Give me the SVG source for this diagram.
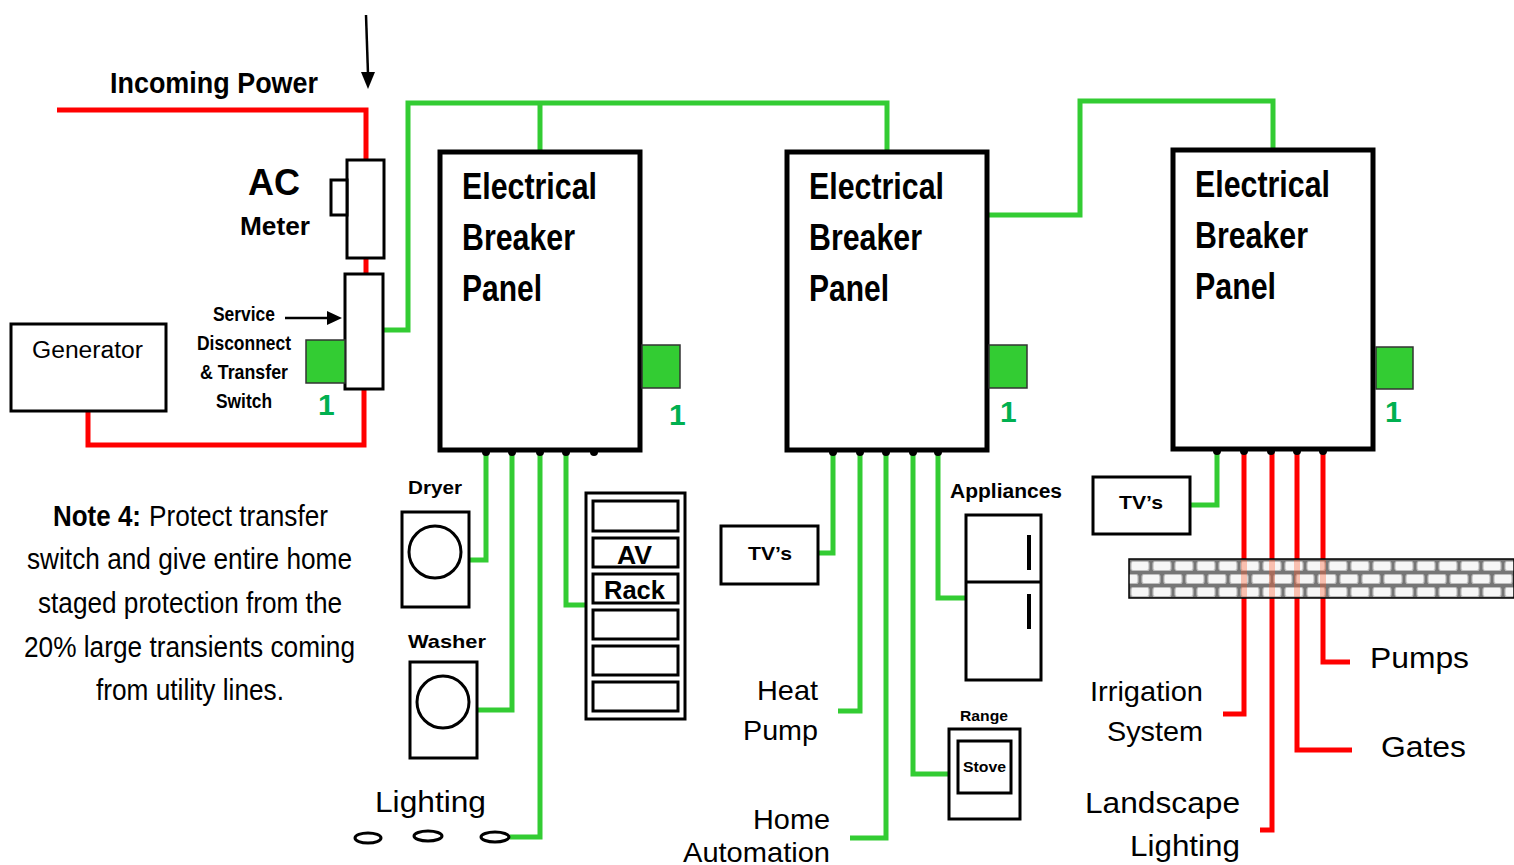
<svg xmlns="http://www.w3.org/2000/svg" width="1514" height="865" viewBox="0 0 1514 865">
<style>
.box{fill:#fff;stroke:#000;stroke-width:3}
.panel{fill:#fff;stroke:#000;stroke-width:5}
.g{fill:none;stroke:#33cc33;stroke-width:5}
.r{fill:none;stroke:#ff0000;stroke-width:5}
.sq{fill:#33cc33;stroke:#333;stroke-width:1.5}
.one{font-family:"Liberation Sans",Arial,sans-serif;font-weight:bold;font-size:30px;fill:#00b050}
.bn{font-family:"Liberation Sans",Arial,sans-serif;font-weight:bold;fill:#000}
.n{font-family:"Liberation Sans",Arial,sans-serif;fill:#000}
.pt{font-family:"Liberation Sans",Arial,sans-serif;font-weight:bold;font-size:36px;fill:#000}
.dot{fill:#000}
</style>
<defs>
<pattern id="brick" patternUnits="userSpaceOnUse" x="1129" y="559" width="44" height="26">
<rect width="44" height="26" fill="#767676"/>
<rect x="2" y="2.5" width="18" height="9" rx="2" fill="#f6f6f6" stroke="#bdbdbd" stroke-width="1.2"/>
<rect x="24" y="2.5" width="18" height="9" rx="2" fill="#f6f6f6" stroke="#bdbdbd" stroke-width="1.2"/>
<rect x="-9" y="15.5" width="18" height="9" rx="2" fill="#f6f6f6" stroke="#bdbdbd" stroke-width="1.2"/>
<rect x="13" y="15.5" width="18" height="9" rx="2" fill="#f6f6f6" stroke="#bdbdbd" stroke-width="1.2"/>
<rect x="35" y="15.5" width="18" height="9" rx="2" fill="#f6f6f6" stroke="#bdbdbd" stroke-width="1.2"/>
</pattern>
</defs>
<rect width="1514" height="865" fill="#fff"/>

<g id="connectors">
<polyline class="r" points="57,110 366,110 366,160"/>
<line class="r" x1="366" y1="258" x2="366" y2="274"/>
<polyline class="r" points="364,389 364,445 88,445 88,411"/>
<polyline class="g" points="383,330 408,330 408,103 887,103 887,152"/>
<line class="g" x1="540" y1="103" x2="540" y2="152"/>
<polyline class="g" points="987,215 1080,215 1080,101 1273,101 1273,150"/>
<polyline class="g" points="486,450 486,560 469,560"/>
<polyline class="g" points="512,450 512,710 477,710"/>
<polyline class="g" points="540,450 540,837 510,837"/>
<polyline class="g" points="566,450 566,605 586,605"/>
<polyline class="g" points="833,450 833,553 818,553"/>
<polyline class="g" points="860,450 860,711 838,711"/>
<polyline class="g" points="886,450 886,838 850,838"/>
<polyline class="g" points="913,450 913,774 949,774"/>
<polyline class="g" points="938,450 938,598 966,598"/>
<polyline class="g" points="1217,449 1217,505 1190,505"/>
<polyline class="r" points="1244,449 1244,714 1223,714"/>
<polyline class="r" points="1272,449 1272,830 1260,830"/>
<polyline class="r" points="1297,449 1297,750 1352,750"/>
<polyline class="r" points="1323,449 1323,662 1350,662"/>
<line x1="366" y1="15" x2="368" y2="74" stroke="#000" stroke-width="2.5"/>
<polygon points="361,72 375,72 368,89" fill="#000"/>
<line x1="285" y1="318" x2="328" y2="318" stroke="#000" stroke-width="2.5"/>
<polygon points="327,311 327,325 342,318" fill="#000"/>
</g>

<g id="incoming-label">
<text class="bn" x="110" y="93" font-size="30" textLength="208" lengthAdjust="spacingAndGlyphs">Incoming  Power</text>
</g>

<g id="meter">
<rect class="box" x="347" y="160" width="37" height="98" stroke-width="2.5"/>
<rect class="box" x="331" y="180" width="16" height="35" stroke-width="2.5"/>
<text class="bn" x="248" y="195" font-size="36" textLength="52" lengthAdjust="spacingAndGlyphs">AC</text>
<text class="bn" x="240" y="235" font-size="25" textLength="70" lengthAdjust="spacingAndGlyphs">Meter</text>
</g>

<g id="switch">
<rect class="box" x="345" y="274" width="38" height="115" stroke-width="2.5"/>
<rect class="sq" x="306" y="340" width="39" height="43"/>
<text class="one" x="318" y="415">1</text>
<text class="bn" x="213" y="321" font-size="20" textLength="62" lengthAdjust="spacingAndGlyphs">Service</text>
<text class="bn" x="197" y="350" font-size="20" textLength="94" lengthAdjust="spacingAndGlyphs">Disconnect</text>
<text class="bn" x="200" y="379" font-size="20" textLength="88" lengthAdjust="spacingAndGlyphs">&amp; Transfer</text>
<text class="bn" x="216" y="408" font-size="20" textLength="56" lengthAdjust="spacingAndGlyphs">Switch</text>
</g>

<g id="generator">
<rect class="box" x="11" y="324" width="155" height="87"/>
<text class="n" x="32" y="358" font-size="23" textLength="111" lengthAdjust="spacingAndGlyphs">Generator</text>
</g>

<g id="panel1">
<rect class="panel" x="440" y="152" width="200" height="298"/>
<text class="pt" x="462" y="199" textLength="135" lengthAdjust="spacingAndGlyphs">Electrical</text>
<text class="pt" x="462" y="250" textLength="113" lengthAdjust="spacingAndGlyphs">Breaker</text>
<text class="pt" x="462" y="301" textLength="80" lengthAdjust="spacingAndGlyphs">Panel</text>
<rect class="sq" x="642" y="345" width="38" height="43"/>
<text class="one" x="669" y="425">1</text>
<circle class="dot" cx="486" cy="452" r="4"/><circle class="dot" cx="512" cy="452" r="4"/><circle class="dot" cx="540" cy="452" r="4"/><circle class="dot" cx="566" cy="452" r="4"/><circle class="dot" cx="594" cy="452" r="4"/>
</g>

<g id="panel2">
<rect class="panel" x="787" y="152" width="200" height="298"/>
<text class="pt" x="809" y="199" textLength="135" lengthAdjust="spacingAndGlyphs">Electrical</text>
<text class="pt" x="809" y="250" textLength="113" lengthAdjust="spacingAndGlyphs">Breaker</text>
<text class="pt" x="809" y="301" textLength="80" lengthAdjust="spacingAndGlyphs">Panel</text>
<rect class="sq" x="989" y="345" width="38" height="43"/>
<text class="one" x="1000" y="422">1</text>
<circle class="dot" cx="833" cy="452" r="4"/><circle class="dot" cx="860" cy="452" r="4"/><circle class="dot" cx="886" cy="452" r="4"/><circle class="dot" cx="913" cy="452" r="4"/><circle class="dot" cx="938" cy="452" r="4"/>
</g>

<g id="panel3">
<rect class="panel" x="1173" y="150" width="200" height="299"/>
<text class="pt" x="1195" y="197" textLength="135" lengthAdjust="spacingAndGlyphs">Electrical</text>
<text class="pt" x="1195" y="248" textLength="113" lengthAdjust="spacingAndGlyphs">Breaker</text>
<text class="pt" x="1195" y="299" textLength="81" lengthAdjust="spacingAndGlyphs">Panel</text>
<rect class="sq" x="1376" y="347" width="37" height="42"/>
<text class="one" x="1385" y="422">1</text>
<circle class="dot" cx="1217" cy="451" r="4"/><circle class="dot" cx="1244" cy="451" r="4"/><circle class="dot" cx="1271" cy="451" r="4"/><circle class="dot" cx="1297" cy="451" r="4"/><circle class="dot" cx="1323" cy="451" r="4"/>
</g>

<g id="dryer">
<text class="bn" x="408" y="494" font-size="19" textLength="54" lengthAdjust="spacingAndGlyphs">Dryer</text>
<rect class="box" x="402" y="512" width="67" height="95"/>
<circle cx="435" cy="552" r="26" fill="none" stroke="#000" stroke-width="3"/>
</g>

<g id="washer">
<text class="bn" x="408" y="648" font-size="19" textLength="78" lengthAdjust="spacingAndGlyphs">Washer</text>
<rect class="box" x="410" y="662" width="67" height="96"/>
<circle cx="443" cy="702" r="26" fill="none" stroke="#000" stroke-width="3"/>
</g>

<g id="lighting1">
<text class="n" x="375" y="812" font-size="30" textLength="111" lengthAdjust="spacingAndGlyphs">Lighting</text>
<ellipse cx="368" cy="838" rx="13" ry="5" fill="none" stroke="#000" stroke-width="3"/>
<ellipse cx="428" cy="836" rx="14" ry="5" fill="none" stroke="#000" stroke-width="3"/>
<ellipse cx="495" cy="837" rx="14" ry="5" fill="none" stroke="#000" stroke-width="3"/>
</g>

<g id="avrack">
<rect class="box" x="586" y="493" width="99" height="226"/>
<rect class="box" x="593" y="501" width="85" height="30" stroke-width="2.5"/>
<rect class="box" x="593" y="538" width="85" height="29" stroke-width="2.5"/>
<rect class="box" x="593" y="574" width="85" height="29" stroke-width="2.5"/>
<rect class="box" x="593" y="610" width="85" height="29" stroke-width="2.5"/>
<rect class="box" x="593" y="646" width="85" height="29" stroke-width="2.5"/>
<rect class="box" x="593" y="682" width="85" height="29" stroke-width="2.5"/>
<text class="bn" x="617" y="564" font-size="26" textLength="35" lengthAdjust="spacingAndGlyphs">AV</text>
<text class="bn" x="604" y="599" font-size="26" textLength="61" lengthAdjust="spacingAndGlyphs">Rack</text>
</g>

<g id="tvs2">
<rect class="box" x="721" y="526" width="97" height="58"/>
<text class="bn" x="748" y="560" font-size="19" textLength="44" lengthAdjust="spacingAndGlyphs">TV’s</text>
</g>

<g id="heatpump">
<text class="n" x="757" y="700" font-size="28" textLength="61" lengthAdjust="spacingAndGlyphs">Heat</text>
<text class="n" x="743" y="740" font-size="28" textLength="75" lengthAdjust="spacingAndGlyphs">Pump</text>
</g>

<g id="homeauto">
<text class="n" x="753" y="829" font-size="28" textLength="77" lengthAdjust="spacingAndGlyphs">Home</text>
<text class="n" x="683" y="862" font-size="28" textLength="147" lengthAdjust="spacingAndGlyphs">Automation</text>
</g>

<g id="appliances">
<text class="bn" x="950" y="498" font-size="20" textLength="112" lengthAdjust="spacingAndGlyphs">Appliances</text>
<rect class="box" x="966" y="515" width="75" height="165"/>
<line x1="966" y1="582" x2="1041" y2="582" stroke="#000" stroke-width="3"/>
<line x1="1029" y1="535" x2="1029" y2="570" stroke="#000" stroke-width="4"/>
<line x1="1029" y1="594" x2="1029" y2="629" stroke="#000" stroke-width="4"/>
</g>

<g id="range">
<text class="bn" x="960" y="721" font-size="15" textLength="48" lengthAdjust="spacingAndGlyphs">Range</text>
<rect class="box" x="949" y="729" width="71" height="90"/>
<rect class="box" x="958" y="741" width="53" height="52"/>
<text class="bn" x="963" y="772" font-size="15" textLength="43" lengthAdjust="spacingAndGlyphs">Stove</text>
</g>

<g id="tvs3">
<rect class="box" x="1093" y="477" width="97" height="57"/>
<text class="bn" x="1119" y="509" font-size="19" textLength="44" lengthAdjust="spacingAndGlyphs">TV’s</text>
</g>

<g id="wall">
<rect x="1129" y="559" width="385" height="39" fill="url(#brick)" stroke="#000" stroke-width="1.5"/>
<rect x="1241" y="560" width="6" height="37" fill="#ff5a2a" opacity="0.35"/>
<rect x="1269" y="560" width="6" height="37" fill="#ff5a2a" opacity="0.35"/>
<rect x="1294" y="560" width="6" height="37" fill="#ff5a2a" opacity="0.35"/>
<rect x="1320" y="560" width="6" height="37" fill="#ff5a2a" opacity="0.35"/>
</g>

<g id="irrigation">
<text class="n" x="1090" y="701" font-size="28" textLength="113" lengthAdjust="spacingAndGlyphs">Irrigation</text>
<text class="n" x="1107" y="741" font-size="28" textLength="96" lengthAdjust="spacingAndGlyphs">System</text>
</g>

<g id="landscape">
<text class="n" x="1085" y="813" font-size="30" textLength="155" lengthAdjust="spacingAndGlyphs">Landscape</text>
<text class="n" x="1130" y="856" font-size="30" textLength="110" lengthAdjust="spacingAndGlyphs">Lighting</text>
</g>

<g id="gates">
<text class="n" x="1381" y="757" font-size="30" textLength="85" lengthAdjust="spacingAndGlyphs">Gates</text>
</g>

<g id="pumps">
<text class="n" x="1370" y="668" font-size="30" textLength="99" lengthAdjust="spacingAndGlyphs">Pumps</text>
</g>

<g id="note">
<text class="bn" x="53" y="526" font-size="30" textLength="88" lengthAdjust="spacingAndGlyphs">Note 4:</text>
<text class="n" x="149" y="526" font-size="30" textLength="179" lengthAdjust="spacingAndGlyphs">Protect transfer</text>
<text class="n" x="27" y="569" font-size="30" textLength="325" lengthAdjust="spacingAndGlyphs">switch and give entire home</text>
<text class="n" x="38" y="613" font-size="30" textLength="304" lengthAdjust="spacingAndGlyphs">staged protection from the</text>
<text class="n" x="24" y="657" font-size="30" textLength="331" lengthAdjust="spacingAndGlyphs">20% large transients coming</text>
<text class="n" x="96" y="700" font-size="30" textLength="188" lengthAdjust="spacingAndGlyphs">from utility lines.</text>
</g>
</svg>
